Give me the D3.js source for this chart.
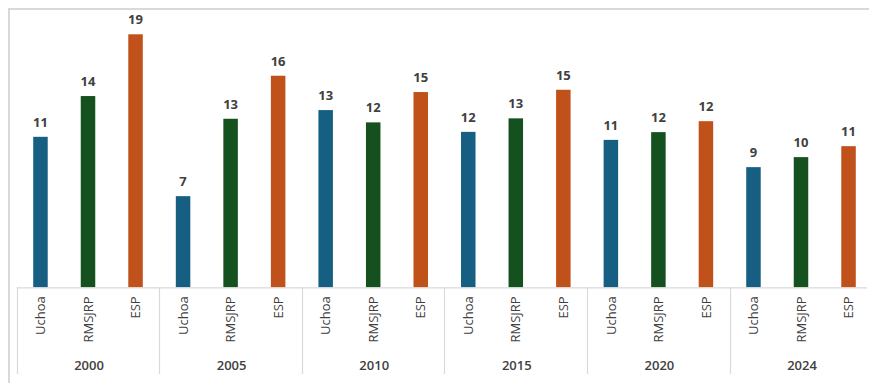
<!DOCTYPE html>
<html>
<head>
<meta charset="utf-8">
<script src="https://cdn.jsdelivr.net/npm/d3@7"></script>
<style>
  body { margin: 0; background: #fff; }
  svg { display: block; font-family: "Open Sans", "Noto Sans", sans-serif; }
</style>
</head>
<body>
<div class="container"></div>
<script>
// data
const years = ["2000", "2005", "2010", "2015", "2020", "2024"]
const series = ["Uchoa", "RMSJRP", "ESP"]
const uchoa  = [11.26, 6.82, 13.26, 11.63, 11.03, 8.99]
const rmsjrp = [14.31, 12.61, 12.34, 12.64, 11.61, 9.74]
const esp    = [18.93, 15.83, 14.61, 14.78, 12.43, 10.56]
const colors = ["#165f82", "#15501f", "#c0511a"]

const width = 869
const height = 383
const margin = { top: 20, bottom: 96, left: 16.7, right: 0 }
const groupW = 142.6

const svg = d3.select(".container").append("svg").attr("width", width).attr("height", height)

// outer chart frame
svg.append("rect")
    .attr("x", 9).attr("y", 9)
    .attr("width", width).attr("height", height)
    .attr("fill", "none").attr("stroke", "#d9d9d9").attr("stroke-width", 2)

const baseY = height - margin.bottom + 0.3

const x0 = d3.scaleBand().domain(years).range([margin.left, margin.left + groupW * years.length]).padding(0)
const x1 = d3.scaleBand().domain(series).range([0, x0.bandwidth()]).padding(0)
const y = d3.scaleLinear().domain([0, 20]).range([baseY, margin.top])

const valuesBySeries = [uchoa, rmsjrp, esp]
const rows = []
years.forEach((yr, i) => {
    series.forEach((s, j) => {
        rows.push({ year: yr, key: s, value: valuesBySeries[j][i], color: colors[j] })
    })
})

const barW = x1.bandwidth() * 0.305
const cx = d => x0(d.year) + x1(d.key) + x1.bandwidth() / 2

const elementGroup = svg.append("g").attr("id", "elementGroup")

elementGroup.selectAll("rect").data(rows).join("rect")
    .attr("x", d => cx(d) - barW / 2)
    .attr("y", d => y(d.value))
    .attr("width", barW)
    .attr("height", d => y(0) - y(d.value))
    .attr("fill", d => d.color)

elementGroup.selectAll("text.val").data(rows).join("text")
    .attr("class", "val")
    .attr("x", cx)
    .attr("y", d => y(d.value) - 10)
    .attr("text-anchor", "middle")
    .attr("fill", "#404040")
    .style("font-size", "13px")
    .style("font-weight", 700)
    .text(d => d3.format(".0f")(d.value))

// category axis (two levels)
const axisGroup = svg.append("g").attr("id", "axisGroup")

axisGroup.append("line")
    .attr("x1", margin.left).attr("x2", width - 2)
    .attr("y1", baseY + 0.5).attr("y2", baseY + 0.5)
    .attr("stroke", "#d9d9d9").attr("stroke-width", 1.2)

axisGroup.selectAll("line.sep").data(years).join("line")
    .attr("class", "sep")
    .attr("x1", d => Math.round(x0(d)) + 0.5).attr("x2", d => Math.round(x0(d)) + 0.5)
    .attr("y1", baseY).attr("y2", 374)
    .attr("stroke", "#d9d9d9").attr("stroke-width", 1.2)

axisGroup.selectAll("text.cat").data(rows).join("text")
    .attr("class", "cat")
    .attr("transform", d => `translate(${cx(d)},${baseY + 9}) rotate(-90)`)
    .attr("text-anchor", "end")
    .attr("dy", "0.36em")
    .attr("fill", "#404040")
    .style("font-size", "13px")
    .text(d => d.key)

axisGroup.selectAll("text.year").data(years).join("text")
    .attr("class", "year")
    .attr("x", d => x0(d) + x0.bandwidth() / 2 + 1)
    .attr("y", 370)
    .attr("text-anchor", "middle")
    .attr("fill", "#404040")
    .style("font-size", "13px")
    .style("font-weight", 600)
    .text(d => d)
</script>
</body>
</html>
